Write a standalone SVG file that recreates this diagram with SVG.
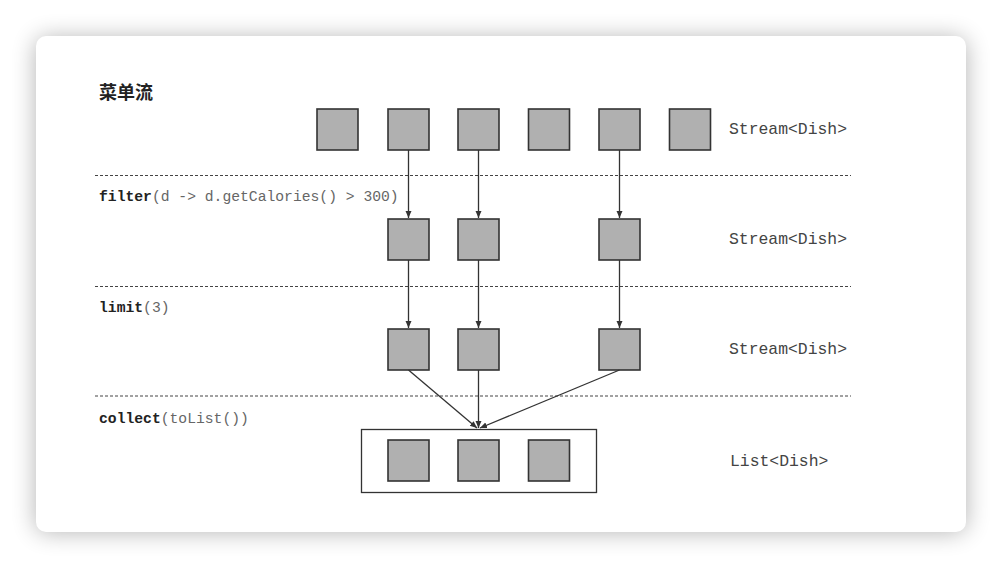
<svg xmlns="http://www.w3.org/2000/svg" width="1002" height="568" viewBox="0 0 1002 568">
<defs>
<filter id="sh" x="-10%" y="-10%" width="120%" height="120%"><feGaussianBlur stdDeviation="12"/></filter>
<marker id="ah" markerWidth="8" markerHeight="8" refX="7" refY="4" orient="auto" markerUnits="userSpaceOnUse"><path d="M0,1 L7,4 L0,7 Z" fill="#333"/></marker>
<style>
.box{fill:#b0b0b0;stroke:#333;stroke-width:1.6}
.dash{stroke:#444;stroke-width:1;stroke-dasharray:3,2}
.con{stroke:#333;stroke-width:1.3;fill:none;marker-end:url(#ah)}
.mono{font-family:"Liberation Mono",monospace;font-size:14.7px;fill:#666}
.b{font-weight:bold;fill:#222}
.lbl{font-family:"Liberation Mono",monospace;font-size:16.4px;fill:#444}
</style>
</defs>
<rect width="1002" height="568" fill="#fff"/>
<rect x="36" y="38" width="930" height="494" rx="10" fill="#000" opacity="0.3" filter="url(#sh)"/>
<rect x="36" y="36" width="930" height="496" rx="10" fill="#fff"/>
<text x="99" y="99" font-family="'Noto Sans CJK SC',sans-serif" font-size="18" font-weight="bold" fill="#222">菜单流</text>
<g id="separators">
<line class="dash" x1="95" y1="175.5" x2="851" y2="175.5"/>
<line class="dash" x1="95" y1="286.5" x2="851" y2="286.5"/>
<line class="dash" x1="95" y1="396" x2="851" y2="396"/>
</g>
<g id="labels">
<text class="mono" x="99" y="201"><tspan class="b">filter</tspan>(d -&gt; d.getCalories() &gt; 300)</text>
<text class="mono" x="99" y="312"><tspan class="b">limit</tspan>(3)</text>
<text class="mono" x="99" y="423"><tspan class="b">collect</tspan>(toList())</text>
<text class="lbl" x="729" y="134">Stream&lt;Dish&gt;</text>
<text class="lbl" x="729" y="244">Stream&lt;Dish&gt;</text>
<text class="lbl" x="729" y="354">Stream&lt;Dish&gt;</text>
<text class="lbl" x="730" y="466">List&lt;Dish&gt;</text>
</g>
<g id="row1">
<rect class="box" x="317" y="109" width="41" height="41"/>
<rect class="box" x="388" y="109" width="41" height="41"/>
<rect class="box" x="458" y="109" width="41" height="41"/>
<rect class="box" x="528.5" y="109" width="41" height="41"/>
<rect class="box" x="599" y="109" width="41" height="41"/>
<rect class="box" x="669.5" y="109" width="41" height="41"/>
</g>
<g id="row2">
<rect class="box" x="388" y="219" width="41" height="41"/>
<rect class="box" x="458" y="219" width="41" height="41"/>
<rect class="box" x="599" y="219" width="41" height="41"/>
</g>
<g id="row3">
<rect class="box" x="388" y="329" width="41" height="41"/>
<rect class="box" x="458" y="329" width="41" height="41"/>
<rect class="box" x="599" y="329" width="41" height="41"/>
</g>
<g id="list">
<rect x="361.5" y="429.5" width="235" height="63" fill="none" stroke="#333" stroke-width="1.3"/>
<rect class="box" x="388" y="440" width="41" height="41"/>
<rect class="box" x="458" y="440" width="41" height="41"/>
<rect class="box" x="528.5" y="440" width="41" height="41"/>
</g>
<g id="connectors">
<line class="con" x1="408.5" y1="150" x2="408.5" y2="218"/>
<line class="con" x1="478.5" y1="150" x2="478.5" y2="218"/>
<line class="con" x1="619.5" y1="150" x2="619.5" y2="218"/>
<line class="con" x1="408.5" y1="260" x2="408.5" y2="328"/>
<line class="con" x1="478.5" y1="260" x2="478.5" y2="328"/>
<line class="con" x1="619.5" y1="260" x2="619.5" y2="328"/>
<line class="con" x1="408.5" y1="370" x2="477" y2="428"/>
<line class="con" x1="478.5" y1="370" x2="478.5" y2="428"/>
<line class="con" x1="619.5" y1="370" x2="480" y2="428"/>
</g>
</svg>
